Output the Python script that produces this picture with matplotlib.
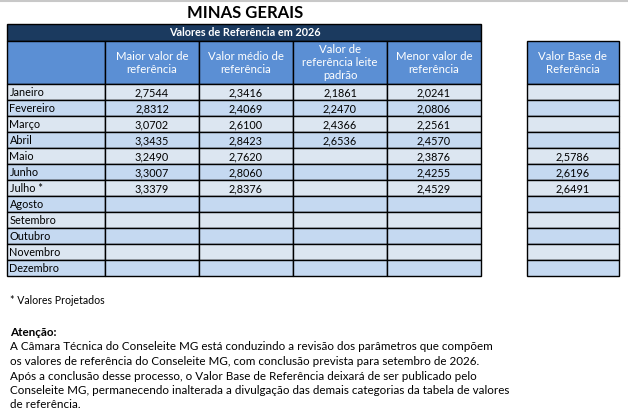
import matplotlib
matplotlib.use("Agg")
import matplotlib.pyplot as plt
from matplotlib.patches import Rectangle

plt.rcParams['font.family'] = ['Lato', 'DejaVu Sans']

# table content
title = "MINAS GERAIS"
subtitle = "Valores de Referência em 2026"
col_headers = ["Maior valor de\nreferência", "Valor médio de\nreferência",
               "Valor de\nreferência leite\npadrão", "Menor valor de\nreferência"]
base_header = "Valor Base de\nReferência"
months = ["Janeiro", "Fevereiro", "Março", "Abril", "Maio", "Junho", "Julho *",
          "Agosto", "Setembro", "Outubro", "Novembro", "Dezembro"]
maior = ["2,7544", "2,8312", "3,0702", "3,3435", "3,2490", "3,3007", "3,3379"]
medio = ["2,3416", "2,4069", "2,6100", "2,8423", "2,7620", "2,8060", "2,8376"]
padrao = ["2,1861", "2,2470", "2,4366", "2,6536"]
menor = ["2,0241", "2,0806", "2,2561", "2,4570", "2,3876", "2,4255", "2,4529"]
base = ["", "", "", "", "2,5786", "2,6196", "2,6491"]

note = "* Valores Projetados"
attention = "Atenção:"
attention_text = [
    "A Câmara Técnica do Conseleite MG está conduzindo a revisão dos parâmetros que compõem",
    "os valores de referência do Conseleite MG, com conclusão prevista para setembro de 2026.",
    "Após a conclusão desse processo, o Valor Base de Referência deixará de ser publicado pelo",
    "Conseleite MG, permanecendo inalterada a divulgação das demais categorias da tabela de valores",
    "de referência.",
]

NAVY = "#1b3a5f"
HEAD = "#5b8fd4"
LIGHT = "#dce6f1"
DARK = "#c5d9f1"

fig = plt.figure(figsize=(6.28, 4.17), dpi=100)
ax = fig.add_axes([0, 0, 1, 1])
ax.set_xlim(0, 628)
ax.set_ylim(417, 0)
ax.axis("off")

# top grey rule
ax.plot([0, 628], [0.8, 0.8], color="#c8c8c8", lw=1.5)

col_x = [7, 105, 199, 293, 387, 481]
base_x = [527, 619]
y_sub, y_head, y_data, row_h = 24, 40.5, 84, 16

ax.text(245, 13, title, ha="center", va="center", fontsize=12, fontweight="bold")

ax.add_patch(Rectangle((col_x[0], y_sub), col_x[-1] - col_x[0], y_head - y_sub,
                       facecolor=NAVY, edgecolor="black", lw=1))
ax.text(245, (y_sub + y_head) / 2, subtitle, ha="center", va="center",
        fontsize=7.8, fontweight="bold", color="white")


def cell(x0, x1, y0, y1, color, text="", ha="center", tcolor="black", size=7.8):
    ax.add_patch(Rectangle((x0, y0), x1 - x0, y1 - y0, facecolor=color,
                           edgecolor="black", lw=1))
    if text:
        tx = x0 + 2.5 if ha == "left" else (x0 + x1) / 2
        ax.text(tx, (y0 + y1) / 2 + 0.5, text, ha=ha, va="center", fontsize=size,
                color=tcolor, linespacing=1.2)


# header row
cell(col_x[0], col_x[1], y_head, y_data, HEAD)
for i, h in enumerate(col_headers):
    cell(col_x[i + 1], col_x[i + 2], y_head, y_data, HEAD, h, tcolor="white", size=8.2)
cell(base_x[0], base_x[1], y_head, y_data, HEAD, base_header, tcolor="white", size=8.2)

columns = [maior, medio, padrao, menor]
for r, m in enumerate(months):
    y0 = y_data + r * row_h
    y1 = y0 + row_h
    color = LIGHT if r % 2 == 0 else DARK
    cell(col_x[0], col_x[1], y0, y1, color, m, ha="left")
    for c, vals in enumerate(columns):
        v = vals[r] if r < len(vals) else ""
        cell(col_x[c + 1], col_x[c + 2], y0, y1, color, v)
    bv = base[r] if r < len(base) else ""
    cell(base_x[0], base_x[1], y0, y1, color, bv)

ax.text(10, 301, note, ha="left", va="center", fontsize=7.6)
ax.text(10, 333, attention, ha="left", va="center", fontsize=8.4, fontweight="bold")
for i, line in enumerate(attention_text):
    ax.text(10, 347 + i * 14.5, line, ha="left", va="center", fontsize=8.4)

fig.savefig("out.png", dpi=100, facecolor="white")
